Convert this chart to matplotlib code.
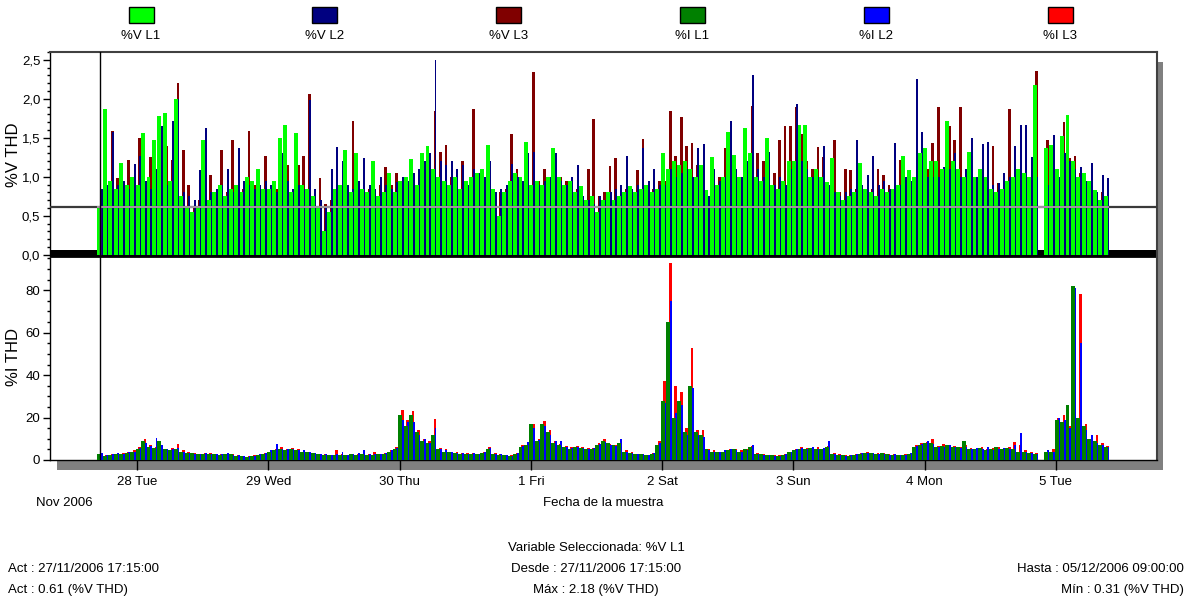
import numpy as np
import pandas as pd
import matplotlib
matplotlib.use("Agg")
import matplotlib.pyplot as plt
import matplotlib.dates as mdates
from matplotlib.patches import Rectangle
from matplotlib.ticker import FixedLocator, MultipleLocator
from matplotlib import font_manager

names = {f.name for f in font_manager.fontManager.ttflist}
FAM = [f for f in ['Liberation Sans Narrow', 'Liberation Sans', 'DejaVu Sans'] if f in names]
plt.rcParams['font.family'] = FAM
NARROW = 'Liberation Sans Narrow' in names
FS = 10.5 if NARROW else 9.5

nan = np.nan

# ---------------- data ----------------
START = "2006-11-27 17:15"     # first sample (hourly)
CURSOR = "2006-11-27 17:15"
X_FROM = "2006-11-27 08:06"
X_TO = "2006-12-05 18:28"
ACT_VALUE = 0.61

series_names = ['%V L1', '%V L2', '%V L3', '%I L1', '%I L2', '%I L3']
series_colors = ['#00ff00', '#000080', '#800000', '#008000', '#0000ff', '#ff0000']

day_tick_dates = ["2006-11-28", "2006-11-29", "2006-11-30", "2006-12-01",
                  "2006-12-02", "2006-12-03", "2006-12-04", "2006-12-05"]
day_tick_labels = ["28 Tue", "29 Wed", "30 Thu", "1 Fri", "2 Sat", "3 Sun", "4 Mon", "5 Tue"]

v_ticks = [0.0, 0.5, 1.0, 1.5, 2.0, 2.5]
v_tick_labels = ["0,0", "0,5", "1,0", "1,5", "2,0", "2,5"]
i_ticks = [0, 20, 40, 60, 80]
i_tick_labels = ["0", "20", "40", "60", "80"]

# %V THD, hourly
v_l1 = ([0.61, 1.87, 0.95, 0.85, 1.18, 0.9, 1.0] +
        [0.9, 1.56, 1.0, 1.47, 1.78, 1.82, 0.95, 2.0, 0.75, 0.6, 0.55, 0.62, 1.47, 0.7, 0.8, 0.9, 0.75, 0.85, 0.9, 0.8, 1.0, 0.95, 1.1, 0.85] +
        [0.85, 0.95, 1.5, 1.67, 0.8, 1.56, 0.9, 0.85, 0.75, 0.6, 0.31, 0.55, 0.85, 0.9, 1.35, 0.8, 1.3, 0.85, 0.8, 1.2, 0.75, 0.8, 1.05, 0.8] +
        [0.95, 1.0, 1.23, 0.9, 1.3, 1.4, 1.1, 1.0, 0.95, 0.9, 1.0, 0.85, 0.95, 1.0, 1.05, 1.1, 1.41, 0.85, 0.5, 0.8, 0.95, 1.05, 1.0, 1.45] +
        [0.9, 0.95, 0.9, 1.0, 1.37, 1.0, 0.9, 0.95, 0.8, 0.88, 0.7, 0.75, 0.55, 0.7, 0.8, 0.7, 0.75, 0.8, 0.88, 0.8, 0.85, 0.9, 0.8, 0.85] +
        [1.3, 1.1, 1.2, 1.15, 1.2, 1.1, 1.0, 1.15, 0.83, 1.26, 0.9, 1.0, 1.58, 1.28, 1.0, 1.62, 1.3, 1.0, 0.95, 1.5, 0.9, 0.85, 0.95, 1.2] +
        [1.2, 1.67, 1.67, 1.0, 1.1, 1.0, 0.94, 1.24, 0.8, 0.7, 0.75, 0.8, 1.18, 0.85, 0.8, 0.75, 0.85, 0.8, 0.85, 0.9, 1.27, 1.09, 1.0, 1.3] +
        [1.37, 1.2, 1.2, 1.1, 1.71, 1.2, 1.1, 1.0, 1.32, 1.0, 1.1, 1.0, 0.85, 0.8, 0.85, 0.95, 1.0, 1.1, 1.05, 1.0, 2.18, nan, 1.37, 1.41] +
        [1.1, 1.52, 1.79, 1.2, 1.0, 1.05, 0.95, 0.83, 0.7, 0.75])
v_l2 = ([0.85, 0.9, 1.58, 0.9, 0.95, 0.85, 1.17] +
        [1.27, 0.95, 0.85, 1.1, 1.65, 0.9, 1.72, 2.0, 0.8, 0.75, 0.7, 1.09, 1.63, 0.8, 0.85, 0.9, 1.1, 0.8, 1.37, 0.95, 0.9, 0.85, 0.9, 0.95] +
        [0.9, 0.8, 1.3, 0.95, 0.85, 0.9, 0.85, 1.99, 0.85, 0.7, 0.6, 1.1, 1.38, 1.2, 0.9, 0.85, 0.95, 1.24, 0.9, 0.85, 1.0, 0.9, 0.85, 0.94] +
        [1.0, 0.95, 1.05, 1.1, 1.2, 1.3, 2.5, 1.2, 1.15, 1.2, 1.1, 1.15, 0.9, 1.1, 1.05, 1.0, 1.2, 0.8, 0.85, 0.9, 1.17, 1.0, 0.95, 1.3] +
        [1.32, 0.9, 0.95, 1.0, 1.3, 0.95, 0.9, 1.0, 1.15, 0.75, 0.7, 0.65, 0.75, 0.7, 0.8, 0.85, 0.9, 1.27, 0.85, 0.9, 1.37, 0.95, 1.1, 0.9] +
        [0.9, 1.1, 1.0, 1.05, 1.1, 1.0, 1.37, 1.42, 0.75, 1.1, 0.95, 1.0, 1.72, 1.1, 1.0, 1.2, 2.31, 1.1, 1.0, 1.32, 0.9, 1.0, 0.9, 1.1] +
        [1.94, 1.2, 1.1, 1.0, 1.0, 1.4, 0.9, 0.81, 0.75, 0.8, 0.85, 1.47, 0.9, 1.03, 1.27, 0.9, 0.95, 0.85, 1.44, 0.9, 1.0, 0.95, 2.26, 1.57] +
        [1.0, 1.0, 1.0, 1.13, 1.1, 1.3, 1.0, 1.1, 1.5, 1.0, 1.42, 1.45, 0.9, 0.92, 1.05, 1.0, 1.4, 1.67, 1.67, 1.26, 1.0, nan, 0.9, 1.54] +
        [1.0, 1.3, 1.2, 1.1, 1.13, 0.95, 1.18, 0.8, 1.03, 0.98])
v_l3 = ([0.7, 0.6, 1.59, 0.98, 0.8, 1.22, 0.9] +
        [1.5, 0.9, 1.26, 0.85, 1.0, 1.39, 1.22, 2.2, 1.35, 0.9, 0.6, 0.7, 0.8, 1.02, 0.75, 1.35, 0.8, 1.47, 0.8, 0.85, 1.59, 0.9, 0.85, 1.27] +
        [0.8, 0.85, 0.9, 1.15, 0.8, 1.15, 1.27, 2.06, 0.75, 0.98, 0.65, 0.7, 0.8, 0.9, 0.85, 1.71, 0.8, 1.15, 0.85, 0.8, 0.9, 1.13, 0.9, 1.05] +
        [0.9, 0.95, 1.0, 0.9, 1.0, 1.1, 1.84, 1.32, 1.41, 1.0, 0.95, 1.2, 0.9, 1.87, 0.95, 1.0, 1.1, 0.75, 0.8, 0.85, 1.55, 1.1, 0.9, 1.0] +
        [2.34, 0.95, 1.1, 0.9, 0.85, 1.0, 0.95, 0.8, 0.85, 0.7, 1.1, 1.74, 0.75, 0.8, 1.14, 1.24, 0.8, 0.85, 0.75, 1.09, 1.48, 0.9, 0.85, 0.95] +
        [0.95, 1.84, 1.27, 1.77, 1.39, 1.44, 1.15, 1.0, 0.7, 0.95, 1.0, 1.37, 1.1, 1.0, 0.95, 1.1, 1.91, 1.3, 1.2, 1.0, 1.05, 1.47, 1.65, 1.65] +
        [1.9, 1.55, 1.2, 1.1, 1.38, 1.26, 0.9, 1.47, 0.8, 1.1, 1.09, 0.85, 0.9, 0.8, 0.85, 1.1, 1.03, 0.9, 0.85, 1.22, 0.95, 0.9, 1.0, 1.1] +
        [1.1, 1.44, 1.9, 1.0, 1.65, 1.47, 1.9, 0.94, 1.0, 0.95, 1.0, 1.0, 1.4, 0.92, 0.9, 1.87, 1.0, 0.95, 1.0, 0.95, 2.36, nan, 1.47, 1.35] +
        [1.0, 1.7, 1.24, 1.27, 1.05, 0.9, 0.85, 0.75, 0.8, 0.7])

# %I THD, hourly
i_l1 = ([3, 2, 2.5, 3, 3, 3.5, 4] +
        [5, 9, 6, 5.5, 9, 5, 4.5, 5, 4, 3.5, 3.5, 3, 3, 3, 3, 2.5, 3, 3, 2, 2, 1.5, 2, 2.5, 3] +
        [4, 4.5, 5, 4.5, 5, 4.5, 4, 4, 3.5, 3, 2.5, 2.5, 2.5, 2.5, 2.5, 3, 2.5, 3, 2.5, 2.5, 3, 3, 4, 5] +
        [21, 16, 21, 13, 9, 8, 12, 5, 4, 4, 3.5, 3, 3, 3, 3, 3.5, 5, 3, 2.5, 2.5, 2, 3, 6, 7] +
        [16.8, 9, 17, 13, 8, 7, 6, 5, 6, 5.5, 5, 5, 7, 9, 8, 7, 8, 4, 3.5, 3, 3, 2.5, 3, 7] +
        [28, 65, 20, 28, 13, 35, 13, 12, 5, 4, 4, 4, 4.5, 5, 4, 5, 6, 3, 3, 2.5, 2.5, 2, 2.5, 4] +
        [4.5, 5, 5, 5.5, 5, 5, 6, 3, 2.5, 2.5, 2, 2.5, 3, 3.5, 3.5, 3, 3.5, 3, 2.5, 2.5, 2.5, 3, 6, 7] +
        [8, 8, 6, 6.5, 7, 6, 6, 9, 5, 5, 5.5, 4.5, 5, 6, 5, 5.5, 5, 4, 4, 3.5, 3, nan, 4, 4] +
        [19, 18, 26, 82, 20, 16, 10, 9, 7, 6])
i_l2 = ([3.5, 2.5, 3, 3.5, 3, 4, 4] +
        [5.5, 8, 6.5, 10.5, 7, 5, 5, 5.5, 4, 3.5, 3, 3, 3.5, 3, 3, 3, 3.5, 2.5, 2.5, 2, 2, 2, 3, 3.5] +
        [4.5, 7.5, 5, 5, 5, 4.5, 4.5, 4, 3.5, 3, 3, 2.5, 3, 4, 2.5, 3, 3.5, 4.5, 3, 3, 3, 3.5, 4.5, 5.5] +
        [19, 18, 18, 12, 10, 8, 15, 5, 4.5, 4, 3.5, 3.5, 3, 3.5, 3, 4, 5.5, 3, 3, 2.5, 2, 3.5, 6.5, 8.4] +
        [15, 9.5, 16, 12, 9, 9, 6, 5.5, 6, 5.5, 5, 5.5, 7.5, 8.5, 7, 6.5, 9.7, 4, 3.5, 3, 3, 2.5, 3.5, 8] +
        [27, 75, 22, 26, 12, 34, 12, 11, 4.5, 4, 4, 4.5, 5, 4.5, 4, 4.5, 7, 3, 2.5, 2.5, 2, 2, 3, 4] +
        [5, 5.5, 5, 6, 5, 5.5, 8.9, 3, 2.5, 2, 2.5, 3, 3.5, 3.5, 3.5, 3, 3, 2.5, 3, 2.5, 2.5, 3.5, 6.5, 7.5] +
        [9, 7.5, 6, 6, 7, 6, 5.5, 6, 5, 5.5, 5, 6, 4.5, 5, 5.5, 5, 7, 12.5, 4, 3.5, 3, nan, 4.5, 4] +
        [20, 19, 15, 81, 55, 14, 12, 8, 7, 6])
i_l3 = ([3, 2.5, 3, 3, 3.5, 4, 4.5] +
        [6, 10, 7, 6, 6, 5, 5.5, 7.6, 4.5, 4, 3.5, 3, 3.5, 3.5, 3, 3, 3, 3, 2.5, 2, 2, 2.5, 3, 3.5] +
        [4.5, 5, 6, 5, 5.5, 5, 4, 4, 3.5, 3, 3, 2.5, 4.5, 3, 2.5, 3, 3, 3.5, 3, 4, 3, 3.5, 4.5, 6] +
        [23.5, 18.7, 23, 14, 10, 9, 19.5, 5.5, 5, 4, 4, 3.5, 3.5, 3.5, 3, 4, 6, 3.5, 3, 2.5, 2.5, 3.5, 7, 8] +
        [17, 10, 18.5, 14, 9, 7.5, 6.5, 6, 6.5, 6, 5.5, 5.5, 8, 10, 7.5, 7, 9.5, 4.5, 4, 3, 3, 2.5, 3.5, 9] +
        [37, 93, 35, 32, 15, 53, 14, 14, 5, 4.5, 4, 4, 5, 5, 4.5, 5, 6.5, 3.5, 3, 2.5, 2.5, 2.5, 3, 4] +
        [5, 6, 5.5, 5.5, 6, 5, 6.5, 3.5, 3, 2.5, 2.5, 3, 3.5, 4, 3, 3.5, 3.5, 3, 3, 2.5, 3, 3.5, 7, 8] +
        [8.5, 10, 6.5, 7.5, 6.5, 6.5, 6, 7, 5.5, 5, 6, 5, 5.5, 6, 5, 6, 8.5, 7, 4.5, 4, 3.5, nan, 4, 5] +
        [20, 21, 16, 50, 78, 17, 10, 12, 8, 6.5])

footer_left = ["Act : 27/11/2006 17:15:00", "Act : 0.61 (%V THD)"]
footer_center = ["Variable Seleccionada: %V L1", "Desde : 27/11/2006 17:15:00", "Máx : 2.18 (%V THD)"]
footer_right = ["Hasta : 05/12/2006 09:00:00", "Mín : 0.31 (%V THD)"]

# ---------------- figure ----------------
W, H = 1196, 602
fig = plt.figure(figsize=(W / 100, H / 100), dpi=100)
fig.patch.set_facecolor('white')


def fx(px):
    return px / W


def fy(py):
    return 1 - py / H


# drop shadow of the plot frame
fig.add_artist(Rectangle((fx(57), fy(470)), fx(1163 - 57), (470 - 62) / H,
                         transform=fig.transFigure, facecolor='#808080',
                         edgecolor='none', zorder=-5))

L, R = 50, 1157
ax1 = fig.add_axes([fx(L), fy(258), fx(R - L), 206 / H])
ax2 = fig.add_axes([fx(L), fy(460), fx(R - L), 202 / H], sharex=ax1)

n = len(v_l1)
times = pd.date_range(START, periods=n, freq='h')
x = mdates.date2num(times) - 0.5 / 24   # left edge of each hourly slot
w = 1.0 / 24


def clean(a):
    return np.nan_to_num(np.asarray(a, dtype=float))


def draw_three(ax, a1, a2, a3, c1, c2, c3):
    # phase 3 behind, phase 2 in the middle, phase 1 in front
    ax.bar(x + 0.48 * w, clean(a3), width=0.50 * w, align='edge', color=c3, lw=0, zorder=2)
    ax.bar(x + 0.64 * w, clean(a2), width=0.36 * w, align='edge', color=c2, lw=0, zorder=3)
    ax.bar(x, clean(a1), width=0.72 * w, align='edge', color=c1, lw=0, zorder=4)


# upper panel
ax1.axhspan(-0.04, 0.064, color='black', zorder=1, lw=0)
draw_three(ax1, v_l1, v_l2, v_l3, *series_colors[:3])
ax1.axhline(ACT_VALUE, color='#3a3a3a', lw=1.6, zorder=5)
ax1.hlines(ACT_VALUE, x[0], x[-1] + w, color='#b4a4b4', lw=1.2, zorder=6)
cx = mdates.date2num(pd.Timestamp(CURSOR))
ax1.vlines(cx, 0, ACT_VALUE, color='#ff00ff', lw=1, zorder=7)
ax1.axvline(cx, color='black', lw=1, zorder=8)
ax1.set_ylim(-0.04, 2.6)

# lower panel
draw_three(ax2, i_l1, i_l2, i_l3, *series_colors[3:])
ax2.axvline(cx, color='black', lw=1, zorder=8)
ax2.set_ylim(0, 95.2)

ax1.set_xlim(mdates.date2num(pd.Timestamp(X_FROM)), mdates.date2num(pd.Timestamp(X_TO)))

# axes styling
for ax in (ax1, ax2):
    ax.set_facecolor('white')
    ax.spines['left'].set_color('black')
    ax.spines['left'].set_linewidth(1.0)
    ax.spines['right'].set_color('#404040')
    ax.spines['right'].set_linewidth(1.5)
    ax.tick_params(axis='y', which='major', length=5, width=1, direction='out',
                   labelsize=FS, pad=2, colors='black')
    ax.tick_params(axis='y', which='minor', length=2.5, width=1, direction='out')

ax1.spines['top'].set_color('#404040')
ax1.spines['top'].set_linewidth(1.5)
ax1.spines['bottom'].set_color('#808080')
ax1.spines['bottom'].set_linewidth(1.0)
ax2.spines['top'].set_visible(False)
ax2.spines['bottom'].set_color('black')
ax2.spines['bottom'].set_linewidth(1.0)

ax1.yaxis.set_major_locator(FixedLocator(v_ticks))
ax1.set_yticklabels(v_tick_labels)
ax1.yaxis.set_minor_locator(MultipleLocator(0.1))
ax2.yaxis.set_major_locator(FixedLocator(i_ticks))
ax2.set_yticklabels(i_tick_labels)
ax2.yaxis.set_minor_locator(MultipleLocator(5))

ax1.tick_params(axis='x', which='both', bottom=False, labelbottom=False)
tick_x = mdates.date2num(pd.to_datetime(day_tick_dates))
ax2.set_xticks(tick_x)
ax2.set_xticklabels(day_tick_labels)
ax2.tick_params(axis='x', which='major', length=7.5, width=1, direction='out',
                labelsize=FS, pad=4, colors='black')
ax2.xaxis.set_minor_locator(FixedLocator([]))

# y labels
fig.text(fx(14), fy(155), '%V THD', rotation=90, ha='center', va='center', fontsize=12)
fig.text(fx(14), fy(357), '%I THD', rotation=90, ha='center', va='center', fontsize=12)

# legend
for k, (nm, col) in enumerate(zip(series_names, series_colors)):
    c = 141 + k * 183.8
    fig.add_artist(Rectangle((fx(c - 12.5), fy(23)), fx(25), 16 / H, transform=fig.transFigure,
                             facecolor=col, edgecolor='black', lw=1))
    fig.text(fx(c), fy(36), nm, ha='center', va='center', fontsize=FS)

# bottom texts
fig.text(fx(64), fy(503), 'Nov 2006', ha='center', va='center', fontsize=FS)
fig.text(fx(603), fy(503), 'Fecha de la muestra', ha='center', va='center', fontsize=FS)
for t, yy in zip(footer_center, [548, 569, 590]):
    fig.text(fx(596), fy(yy), t, ha='center', va='center', fontsize=FS)
for t, yy in zip(footer_left, [569, 590]):
    fig.text(fx(8), fy(yy), t, ha='left', va='center', fontsize=FS)
for t, yy in zip(footer_right, [569, 590]):
    fig.text(fx(1184), fy(yy), t, ha='right', va='center', fontsize=FS)

fig.savefig('out.png', dpi=100)
